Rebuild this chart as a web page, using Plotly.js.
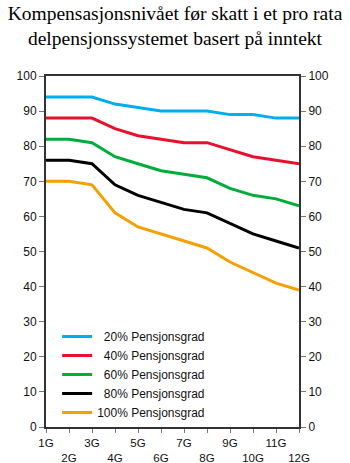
<!DOCTYPE html>
<html><head><meta charset="utf-8">
<script src="https://cdn.plot.ly/plotly-3.0.1.min.js"></script>
<style>html,body{margin:0;padding:0;background:#fff}</style>
</head><body><div id="chart" style="width:350px;height:463px"></div>
<script>
const categories = ["1G","2G","3G","4G","5G","6G","7G","8G","9G","10G","11G","12G"];
const tickLabels = ["1G","<br>2G","3G","<br>4G","5G","<br>6G","7G","<br>8G","9G","<br>10G","11G","<br>12G"];
const seriesNames = ["\u200720% Pensjonsgrad","\u200740% Pensjonsgrad","\u200760% Pensjonsgrad","\u200780% Pensjonsgrad","100% Pensjonsgrad"];
const grad20  = [94, 94, 94, 92, 91, 90, 90, 90, 89, 89, 88, 88];
const grad40  = [88, 88, 88, 85, 83, 82, 81, 81, 79, 77, 76, 75];
const grad60  = [82, 82, 81, 77, 75, 73, 72, 71, 68, 66, 65, 63];
const grad80  = [76, 76, 75, 69, 66, 64, 62, 61, 58, 55, 53, 51];
const grad100 = [70, 70, 69, 61, 57, 55, 53, 51, 47, 44, 41, 39];
const colors = ["#00aeef","#e8112d","#00ad3a","#000000","#f5a000"];
const series = [grad20, grad40, grad60, grad80, grad100];

const traces = series.map((s,i)=>({
  x: categories, y: s, type:'scatter', mode:'lines', name: seriesNames[i],
  line:{color:colors[i], width:3}
}));
traces.push({x: categories, y: grad20, type:'scatter', mode:'lines', yaxis:'y2',
  showlegend:false, hoverinfo:'skip', line:{color:'rgba(0,0,0,0)', width:0}});

const tickFont = {family:'"Liberation Sans", Arial, sans-serif', size:11.5, color:'#111'};
const layout = {
  width:350, height:463,
  margin:{l:46, r:51, t:76, b:36},
  paper_bgcolor:'#fff', plot_bgcolor:'#fff',
  title:{text:'Kompensasjonsnivået før skatt i et pro rata<br>delpensjonssystemet basert på inntekt',
    font:{family:'"Liberation Serif", "Times New Roman", serif', size:19.5, color:'#000'},
    x:0.5, xanchor:'center', y:0.957, yanchor:'top'},
  xaxis:{type:'category', categoryorder:'array', categoryarray:categories,
    tickvals:categories, ticktext:tickLabels, range:[0,11], tickangle:0,
    showline:true, linecolor:'#333', linewidth:2, mirror:true,
    ticks:'outside', ticklen:4, tickcolor:'#777', tickwidth:1,
    showgrid:false, zeroline:false, tickfont:tickFont},
  yaxis:{range:[0,100], dtick:10, showline:true, linecolor:'#333', linewidth:2,
    ticks:'outside', ticklen:5, tickcolor:'#777', showgrid:false, zeroline:false,
    tickfont:Object.assign({}, tickFont, {size:12})},
  yaxis2:{range:[0,100], dtick:10, overlaying:'y', side:'right', showline:true, linecolor:'#333', linewidth:2,
    ticks:'outside', ticklen:5, tickcolor:'#777', showgrid:false, zeroline:false,
    tickfont:Object.assign({}, tickFont, {size:12})},
  legend:{x:0.044, y:0.0, xanchor:'left', yanchor:'bottom', bgcolor:'rgba(0,0,0,0)',
    font:{family:'"Liberation Sans", Arial, sans-serif', size:12, color:'#111'},
    itemwidth:30, tracegroupgap:0},
  showlegend:true
};
Plotly.newPlot('chart', traces, layout, {displayModeBar:false, staticPlot:true});
</script></body></html>
